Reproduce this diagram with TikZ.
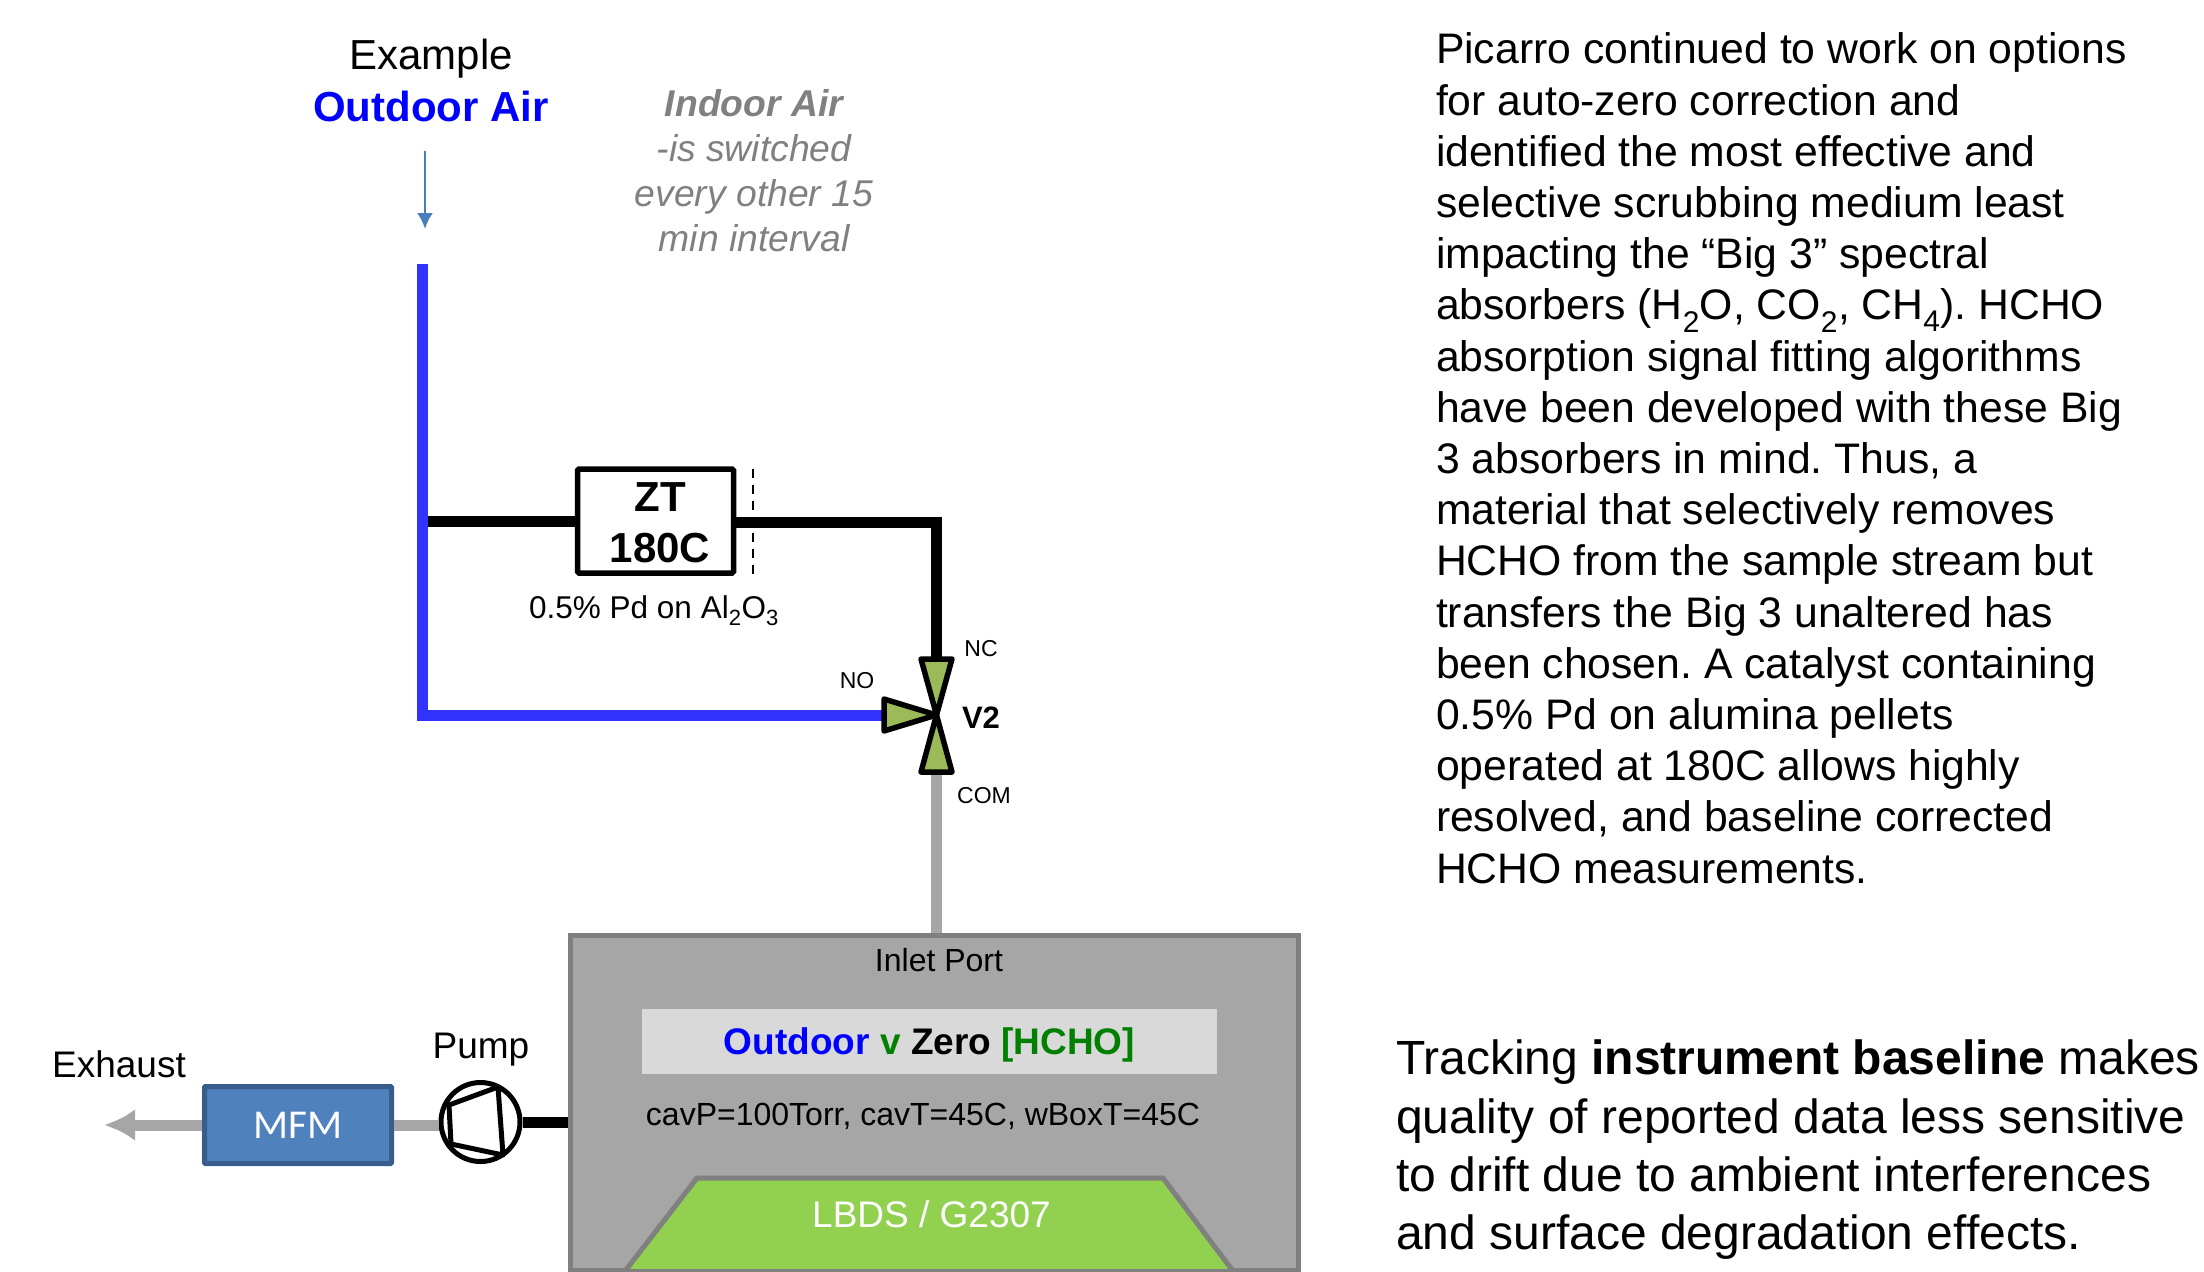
\documentclass[tikz,border=0pt]{standalone}
\usepackage{fontspec}
\setmainfont{Liberation Sans}
\newfontfamily\calibrilike{Carlito}
\usetikzlibrary{arrows.meta}
\definecolor{pipeblue}{HTML}{3333FF}
\definecolor{pipegray}{HTML}{A6A6A6}
\definecolor{edgegray}{HTML}{808080}
\definecolor{valvegreen}{HTML}{9BBB59}
\definecolor{lbdsgreen}{HTML}{92D050}
\definecolor{barlight}{HTML}{D9D9D9}
\definecolor{mfmblue}{HTML}{4F81BD}
\definecolor{mfmedge}{HTML}{385D8A}
\definecolor{arrowblue}{HTML}{4A7EBB}
\definecolor{hchogreen}{HTML}{008000}
\newcommand{\fs}[2]{\fontsize{#1}{#2}\selectfont}
\newcommand{\sbs}[1]{\textsubscript{#1}}
\frenchspacing
\tikzset{
  label text/.style={inner sep=0pt,outer sep=0pt,align=center},
  bluepipe/.style={draw=pipeblue,line width=11pt,line cap=butt,line join=miter},
  blackpipe/.style={draw=black,line width=11pt},
  graypipe/.style={draw=pipegray,line width=11pt},
  valveleaf/.style={draw=black,fill=valvegreen,line width=5.5pt,line join=round},
}
\begin{document}
\begin{tikzpicture}[x=1pt,y=-1pt]
\useasboundingbox (0,0) rectangle (2204,1272);
% named anchors
\coordinate (bluetop) at (422,264);
\coordinate (junction) at (422,521);
\coordinate (no) at (884,715);
\coordinate (nc) at (936,659);
\coordinate (com) at (936,772);
\coordinate (vc) at (936.5,715);
\coordinate (exhtip) at (104,1125);
\coordinate (flowa) at (425,151);
\coordinate (flowb) at (425,229);
% boxes
\node[draw=edgegray,fill=pipegray,line width=5pt,minimum width=727.5pt,minimum height=335pt,inner sep=0pt] (main) at (934.25,1102.5) {};
\node[fill=barlight,minimum width=575pt,minimum height=65pt,inner sep=0pt,text depth=9pt,text height=35pt] (bar) at (929.5,1041.5)
  {\fs{37}{44}\bfseries\textcolor{blue}{Outdoor} \textcolor{hchogreen}{v} Zero \textcolor{hchogreen}{[HCHO]}};
\node[draw=black,fill=white,line width=5.5pt,rounded corners=1.5pt,minimum width=156pt,minimum height=104pt,inner sep=0pt] (zt) at (655.5,521) {};
\node[draw=mfmedge,fill=mfmblue,line width=5pt,rounded corners=1pt,minimum width=187pt,minimum height=77pt,inner sep=0pt,text=white,text depth=8pt,text height=35pt] (mfm) at (298,1125) {\calibrilike\fs{41}{48}MFM};
\node[draw=black,fill=white,circle,line width=5pt,minimum size=79pt,inner sep=0pt] (pump) at (480.5,1122) {};
% pipes
\draw[blackpipe] (junction) -- (zt.west);
\draw[blackpipe] (zt.east |- 0,522) -| (nc);
\draw[bluepipe] (bluetop) -- (bluetop |- no) -- (no);
\draw[graypipe] (com) -- (com |- main.north);
\draw[blackpipe] (pump.east) -- (main.west |- pump.east);
\draw[graypipe] (mfm.east) -- (pump.west |- mfm.east);
\draw[draw=pipegray,line width=11pt,-{Latex[length=31pt,width=32pt,sharp]}] (mfm.west) -- (exhtip);
% thin flow arrow
\draw[draw=arrowblue,line width=2.5pt,-{Latex[length=16pt,width=16pt,sharp]}] (flowa) -- (flowb);
% dashed mark
\coordinate (dasha) at (753,469);
\coordinate (dashb) at (753,574);
\draw[black,line width=2.2pt,dash pattern=on 9pt off 7pt] (dasha) -- (dashb);
% valve
\draw[valveleaf] (vc) -- (952,659) -- (921,659) -- cycle;
\draw[valveleaf] (vc) -- (952,772) -- (921,772) -- cycle;
\draw[valveleaf] (vc) -- (884,699) -- (884,731) -- cycle;
% pump rotor
\draw[black,line width=5pt,line join=round] (449,1105) -- (498,1087) -- (503,1155) -- (451,1144) -- cycle;
% LBDS trapezoid
\begin{scope}
\clip (571,935) rectangle (1298,1268);
\draw[draw=edgegray,fill=lbdsgreen,line width=5pt] (622,1275) -- (697,1178) -- (1163,1178) -- (1236,1275) -- cycle;
\end{scope}
\draw[draw=edgegray,line width=5pt] (main.south west) -- (main.south east);
% labels
\node[label text] (ex) at (431,59) {\fs{42}{50}Example};
\node[label text,text=blue] (oa) at (431,106) {\fs{42}{50}\bfseries Outdoor Air};
\node[label text,text=edgegray,anchor=north,font=\fs{37.3}{45}\itshape] (ia) at (754,89)
 {{\bfseries Indoor Air}\\-is switched\\every other 15\\min interval};
\node[label text] (ztt) at (660,497) {\fs{42}{50}\bfseries ZT};
\node[label text] (ztb) at (660,548) {\fs{42}{50}\bfseries 180C};
\node[label text] (pd) at (654,611) {\fs{31.5}{38}0.5\% Pd on Al\sbs{2}O\sbs{3}};
\node[label text] (lnc) at (981,649) {\fs{23}{28}NC};
\node[label text] (lno) at (857,681) {\fs{23}{28}NO};
\node[label text] (lv2) at (981,718) {\fs{31}{37}\bfseries V2};
\node[label text] (lcom) at (984,796) {\fs{23}{28}COM};
\node[label text] (inlet) at (939,960) {\fs{32}{38}Inlet Port};
\node[label text] (cav) at (923,1116) {\fs{32}{38}cavP=100Torr, cavT=45C, wBoxT=45C};
\node[label text,text=white] (lbds) at (931.5,1214) {\fs{37}{44}LBDS / G2307};
\node[label text] (exh) at (119,1064) {\fs{37}{44}Exhaust};
\node[label text] (pmp) at (481,1050) {\fs{37}{44}Pump};
% paragraphs
\node[label text,align=left,anchor=north west,font=\fs{42.7}{51.2}] (para) at (1436,33) {%
Picarro continued to work on options\\
for auto-zero correction and\\
identified the most effective and\\
selective scrubbing medium least\\
impacting the “Big 3” spectral\\
absorbers (H\sbs{2}O, CO\sbs{2}, CH\sbs{4}). HCHO\\
absorption signal fitting algorithms\\
have been developed with these Big\\
3 absorbers in mind. Thus, a\\
material that selectively removes\\
HCHO from the sample stream but\\
transfers the Big 3 unaltered has\\
been chosen. A catalyst containing\\
0.5\% Pd on alumina pellets\\
operated at 180C allows highly\\
resolved, and baseline corrected\\
HCHO measurements.};
\node[label text,align=left,anchor=north west,font=\fs{48}{58.3}] (track) at (1396,1040) {%
Tracking {\bfseries instrument baseline} makes\\
quality of reported data less sensitive\\
to drift due to ambient interferences\\
and surface degradation effects.};
\end{tikzpicture}
\end{document}
